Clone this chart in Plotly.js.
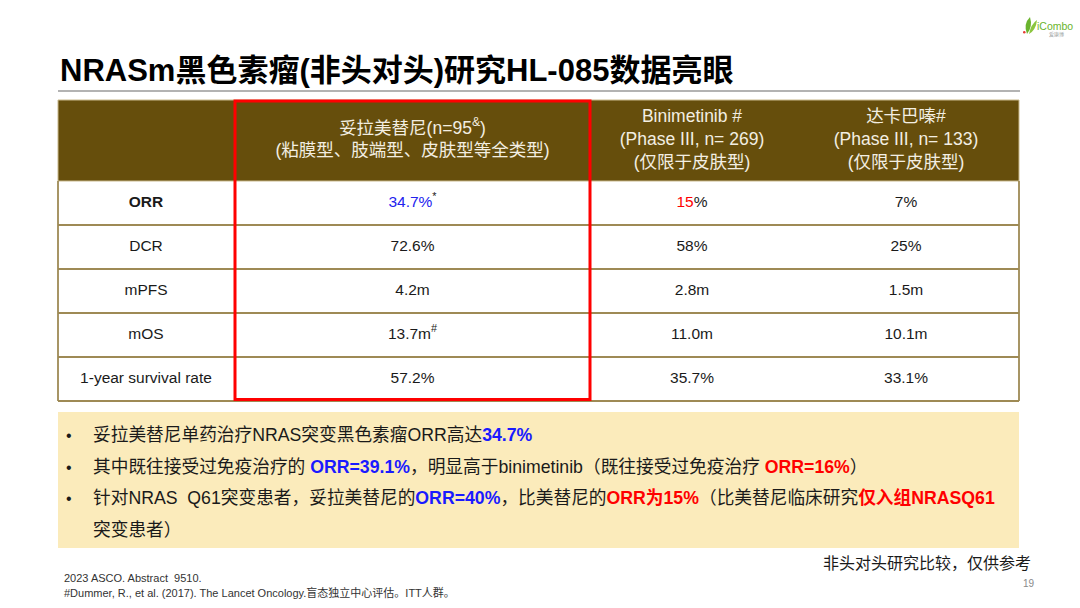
<!DOCTYPE html>
<html>
<head>
<meta charset="utf-8">
<script src="https://cdn.plot.ly/plotly-3.0.1.min.js"></script>
<style>
  html, body { margin: 0; padding: 0; background: #ffffff; }
  #chart { width: 1080px; height: 608px; }
</style>
</head>
<body>
<div id="chart"></div>
<script>
// table content
const headerLabels = [
  "",
  "妥拉美替尼(n=95<sup>&</sup>)<br>(粘膜型、肢端型、皮肤型等全类型)",
  "Binimetinib #<br>(Phase III, n= 269)<br>(仅限于皮肤型)",
  "达卡巴嗪#<br>(Phase III, n= 133)<br>(仅限于皮肤型)",
];
const metrics = ["<b>ORR</b>", "DCR", "mPFS", "mOS", "1-year survival rate"];
const tunlametinib = ["<span style='color:#2222ee'>34.7%</span><sup>*</sup>", "72.6%", "4.2m", "13.7m<sup>#</sup>", "57.2%"];
const binimetinib = ["<span style='color:#ff0000'>15</span>%", "58%", "2.8m", "11.0m", "35.7%"];
const dacarbazine = ["7%", "25%", "1.5m", "10.1m", "33.1%"];

const bullets = [
  "妥拉美替尼单药治疗NRAS突变黑色素瘤ORR高达<span style='color:#1a1aff'><b>34.7%</b></span>",
  "其中既往接受过免疫治疗的 <span style='color:#1a1aff'><b>ORR=39.1%</b></span>，明显高于binimetinib（既往接受过免疫治疗 <span style='color:#ff0000'><b>ORR=16%</b></span>）",
  "针对NRAS  Q61突变患者，妥拉美替尼的<span style='color:#1a1aff'><b>ORR=40%</b></span>，比美替尼的<span style='color:#ff0000'><b>ORR为15%</b></span>（比美替尼临床研究<span style='color:#ff0000'><b>仅入组NRASQ61</b></span>",
];
const bulletTail = "突变患者）";

const titleText = "NRASm黑色素瘤(非头对头)研究HL-085数据亮眼";
const noteText = "非头对头研究比较，仅供参考";
const footnotes = [
  "2023 ASCO. Abstract  9510.",
  "#Dummer, R., et al. (2017). The Lancet Oncology.盲态独立中心评估。ITT人群。",
];
const pageNo = "19";

// slide geometry, in pixels (axes are mapped 1:1 to the page)
const W = 1080, H = 608;
const colEdges = [58, 234, 591, 793, 1019];
const rowEdges = [100, 181, 225, 269, 313, 357, 401];
const colCenter = (i) => (colEdges[i] + colEdges[i + 1]) / 2;
const rowCenter = (j) => (rowEdges[j] + rowEdges[j + 1]) / 2;
const FONT = "Arial, 'Liberation Sans', 'Noto Sans CJK SC', sans-serif";

const columns = [metrics, tunlametinib, binimetinib, dacarbazine];
const headerCols = headerLabels.map((t, i) => i).filter((i) => headerLabels[i] !== "");

const headerTrace = {
  type: "scatter",
  mode: "text",
  x: headerCols.map((i) => colCenter(i)),
  y: headerCols.map(() => rowCenter(0)),
  text: headerCols.map((i) => headerLabels[i]),
  textposition: "middle center",
  textfont: { family: FONT, size: 17.5, color: "#f3eee2" },
  hoverinfo: "skip",
  cliponaxis: false,
};

const bodyTrace = {
  type: "scatter",
  mode: "text",
  x: columns.flatMap((col, i) => col.map(() => colCenter(i))),
  y: columns.flatMap((col) => col.map((_, j) => rowCenter(j + 1))),
  text: columns.flat(),
  textposition: "middle center",
  textfont: { family: FONT, size: 15.5, color: "#1a1a1a" },
  hoverinfo: "skip",
  cliponaxis: false,
};

const tableLine = { color: "#9e8a55", width: 1.8 };
const shapes = [
  { type: "line", xref: "x", yref: "y", x0: 58, x1: 1020, y0: 91, y1: 91,
    line: { color: "#9a9a9a", width: 1.5 } },
  // header band
  { type: "rect", xref: "x", yref: "y", x0: colEdges[0], x1: colEdges[4], y0: rowEdges[0], y1: rowEdges[1],
    fillcolor: "#664e0c", line: { color: "#c9b98d", width: 1 }, layer: "below" },
  // row rules
  ...rowEdges.slice(2).map((y) => ({ type: "line", xref: "x", yref: "y",
    x0: colEdges[0], x1: colEdges[4], y0: y, y1: y, line: tableLine })),
  { type: "line", xref: "x", yref: "y", x0: colEdges[0], x1: colEdges[0], y0: rowEdges[1], y1: rowEdges[6], line: tableLine },
  { type: "line", xref: "x", yref: "y", x0: colEdges[4], x1: colEdges[4], y0: rowEdges[1], y1: rowEdges[6], line: tableLine },
  // highlight box
  { type: "rect", xref: "x", yref: "y", x0: colEdges[1] + 1, x1: colEdges[2] - 1, y0: rowEdges[0] + 1, y1: rowEdges[6] - 1.5,
    line: { color: "#ff0000", width: 3 } },
  // summary panel
  { type: "rect", xref: "x", yref: "y", x0: 58, x1: 1019, y0: 412, y1: 548,
    fillcolor: "#fbebbb", line: { width: 0 }, layer: "below" },
  // logo leaf
  { type: "path", xref: "x", yref: "y",
    path: "M 1027 34 Q 1023 24 1030 17 Q 1033 27 1027 34 Z",
    fillcolor: "#6ab42d", line: { width: 0 } },
  { type: "path", xref: "x", yref: "y",
    path: "M 1029 34 Q 1031 24 1037 20 Q 1036 30 1029 34 Z",
    fillcolor: "#8cc63f", line: { width: 0 } },
  { type: "circle", xref: "x", yref: "y", x0: 1023, x1: 1025.5, y0: 31, y1: 33.5,
    fillcolor: "#e53935", line: { width: 0 } },
];

const ann = (x, y, text, size, color, xanchor = "left") => ({
  xref: "x", yref: "y", x, y, text, showarrow: false,
  xanchor, yanchor: "middle", align: xanchor === "right" ? "right" : "left",
  font: { family: FONT, size, color },
});

const bulletY = [435, 467, 498];
const annotations = [
  ann(58, 70, "<b>" + titleText + "</b>", 31, "#000000"),
  ...bullets.map((t, i) => ann(64, bulletY[i], "•", 16, "#1a1a1a")),
  ...bullets.map((t, i) => ann(91, bulletY[i], t, 17.7, "#1a1a1a")),
  ann(91, 530, bulletTail, 17.7, "#1a1a1a"),
  ann(1033, 563, noteText, 16, "#1a1a1a", "right"),
  ann(62, 578, footnotes[0], 11, "#333333"),
  ann(62, 592, footnotes[1], 11, "#333333"),
  ann(1037, 583, pageNo, 10, "#8a8a8a", "right"),
  ann(1035, 26, "iCombo", 10.5, "#6ab42d"),
  ann(1047, 34, "爱康博", 5, "#9aa0a0"),
];

const hidden = { visible: false, showgrid: false, zeroline: false, fixedrange: true };
const layout = {
  width: W,
  height: H,
  margin: { l: 0, r: 0, t: 0, b: 0 },
  paper_bgcolor: "#ffffff",
  plot_bgcolor: "#ffffff",
  showlegend: false,
  xaxis: Object.assign({ range: [0, W], domain: [0, 1] }, hidden),
  yaxis: Object.assign({ range: [H, 0], domain: [0, 1] }, hidden),
  shapes,
  annotations,
};

Plotly.newPlot("chart", [headerTrace, bodyTrace], layout, { displayModeBar: false, staticPlot: true });
</script>
</body>
</html>
